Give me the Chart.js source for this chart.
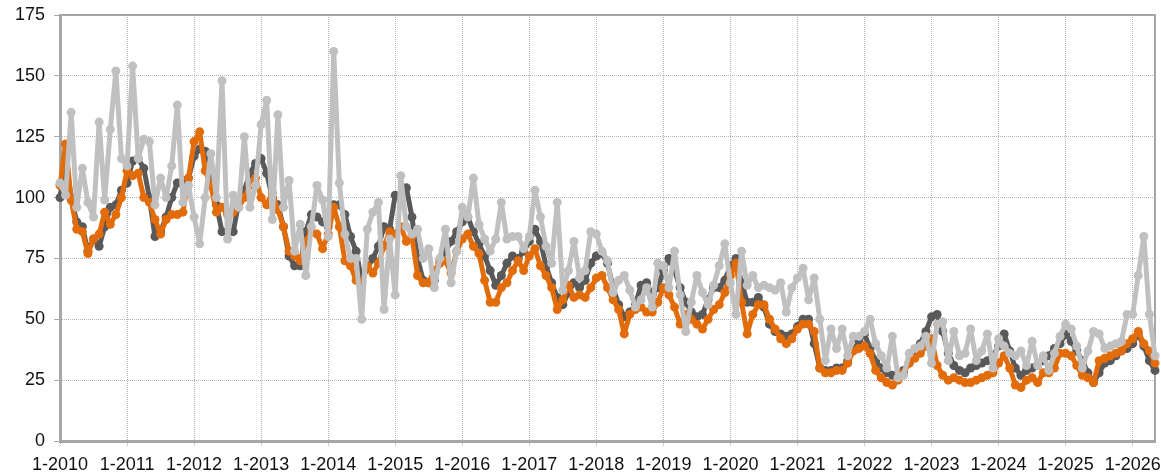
<!DOCTYPE html>
<html>
<head>
<meta charset="utf-8">
<script src="https://cdn.jsdelivr.net/npm/chart.js@4.4.1/dist/chart.umd.min.js"></script>
<style>
html,body{margin:0;padding:0;background:#ffffff;}
#wrap{width:1161px;height:476px;}
</style>
</head>
<body>
<div id="wrap"><canvas id="c" width="1161" height="476"></canvas></div>
<script>
// Monthly categories: January 2010 .. May 2026
const years = [2010,2011,2012,2013,2014,2015,2016,2017,2018,2019,2020,2021,2022,2023,2024,2025,2026];
const monthsInLastYear = 5;
const yTicks = [0,25,50,75,100,125,150,175];

const seriesDark = [
  100,116,100,90,88,78,83,80,88,96,97,103,
  106,115,116,112,100,84,86,92,100,106,107,108,
  117,120,119,112,97,86,86,86,98,103,110,114,
  116,110,100,97,88,76,72,72,86,93,92,90,
  88,97,97,93,84,78,66,71,75,80,88,87,
  101,100,104,92,75,66,65,66,74,78,82,86,
  90,92,86,81,76,70,64,68,73,76,75,78,
  82,87,82,72,65,59,56,61,65,63,66,73,
  76,77,73,63,56,51,53,56,64,65,60,63,
  70,75,70,63,57,53,51,52,58,63,63,66,
  72,75,65,57,57,59,55,48,45,44,43,44,
  47,50,50,40,30,29,29,30,30,33,37,41,
  44,38,33,30,28,27,26,29,32,35,40,45,
  51,52,45,36,31,29,28,30,31,32,33,35,
  39,44,37,30,27,29,30,31,33,35,38,40,
  44,41,37,33,28,24,28,32,33,35,37,38,
  40,44,39,33,29
];

const seriesOrange = [
  105,122,99,87,86,77,83,85,94,89,93,100,
  111,109,110,100,98,91,85,91,93,93,94,108,
  123,127,111,105,94,96,93,94,96,100,105,108,
  100,97,102,95,88,78,76,74,82,86,85,79,
  85,96,88,74,72,66,65,72,69,73,80,86,
  85,88,82,84,68,65,65,70,73,74,69,78,
  83,85,80,77,66,57,57,63,65,70,74,70,
  76,79,72,68,63,54,58,64,59,60,59,63,
  67,68,63,58,54,44,52,54,55,53,53,57,
  63,60,55,48,52,50,48,46,50,54,56,61,
  68,73,57,44,52,56,56,50,46,42,40,42,
  46,48,48,45,30,28,28,29,29,32,37,38,
  39,36,29,26,24,23,25,28,32,34,36,39,
  42,31,27,25,26,25,24,24,25,26,27,28,
  32,35,30,23,22,25,26,24,28,28,30,36,
  36,35,31,27,26,24,33,34,35,36,37,40,
  42,45,40,37,32
];

const seriesLight = [
  106,101,135,96,112,98,92,131,99,128,152,116,
  113,154,116,124,123,97,108,100,113,138,98,105,
  92,81,100,118,100,148,83,101,96,125,96,105,
  130,140,91,134,96,107,78,89,68,88,105,99,
  84,160,106,85,75,75,50,87,94,98,54,83,
  60,109,88,85,87,75,79,63,75,87,65,78,
  96,92,108,89,83,78,83,98,83,84,84,79,
  84,103,92,80,73,98,62,70,82,67,70,86,
  85,78,74,61,66,68,62,55,58,63,55,73,
  72,63,78,60,45,57,68,61,56,64,72,81,
  65,52,78,64,68,63,64,63,62,65,53,63,
  67,71,58,67,50,33,46,38,46,35,43,43,
  45,50,40,35,30,43,26,27,36,38,39,43,
  32,48,49,33,45,35,36,46,33,37,44,30,
  42,39,36,35,37,31,41,31,35,29,36,43,
  48,46,39,30,37,45,44,38,39,40,41,52,
  52,68,84,52,35
];

const labels = [];
years.forEach((y, yi) => {
  const n = (yi === years.length - 1) ? monthsInLastYear : 12;
  for (let m = 1; m <= n; m++) labels.push(m + '-' + y);
});

const FONT = 'Liberation Sans, Arial, Helvetica, sans-serif';
const AXIS = '#a6a6a6';
const GRID = '#b4b4b4';

const frame = {
  id: 'frame',
  beforeDatasetsDraw(chart) {
    const {ctx, chartArea: a} = chart;
    ctx.save();
    ctx.strokeStyle = AXIS;
    ctx.lineWidth = 2;
    ctx.beginPath();
    ctx.moveTo(a.left, a.top);
    ctx.lineTo(a.right, a.top);
    ctx.lineTo(a.right, a.bottom);
    ctx.stroke();
    ctx.restore();
  }
};

function ds(data, color) {
  return {
    data: data,
    borderColor: color,
    backgroundColor: color,
    borderWidth: 5,
    borderJoinStyle: 'round',
    borderCapStyle: 'round',
    pointRadius: 4.5,
    pointBorderWidth: 0,
    pointBackgroundColor: color,
    tension: 0,
    clip: false
  };
}

new Chart(document.getElementById('c'), {
  type: 'line',
  data: {
    labels: labels,
    datasets: [
      ds(seriesLight, '#c0c0c0'),
      ds(seriesOrange, '#e36c0a'),
      ds(seriesDark, '#595959')
    ]
  },
  options: {
    responsive: false,
    animation: false,
    events: [],
    layout: {padding: {top: 15, right: 6, left: 0, bottom: 0}},
    plugins: {legend: {display: false}, tooltip: {enabled: false}},
    scales: {
      x: {
        type: 'category',
        offset: false,
        grid: {
          color: c => (c.index % 12 === 0 ? GRID : 'rgba(0,0,0,0)'),
          lineWidth: 1,
          tickLength: 6,
          tickColor: c => (c.index % 12 === 0 ? GRID : 'rgba(0,0,0,0)'),
          tickBorderDash: [1, 1]
        },
        border: {display: true, color: AXIS, width: 3, dash: [1, 1]},
        ticks: {
          autoSkip: false,
          maxRotation: 0,
          minRotation: 0,
          padding: 7,
          color: '#111',
          font: {family: FONT, size: 18},
          callback: (v, i) => (i % 12 === 0 ? labels[i] : '')
        },
        afterFit: s => { s.height = 35; s.paddingLeft = 0; s.paddingRight = 0; }
      },
      y: {
        min: yTicks[0],
        max: yTicks[yTicks.length - 1],
        afterBuildTicks: s => { s.ticks = yTicks.map(v => ({value: v})); },
        grid: {color: GRID, lineWidth: 1, tickLength: 6, tickColor: AXIS, tickBorderDash: []},
        border: {display: true, color: AXIS, width: 3, dash: [1, 1]},
        ticks: {padding: 9, color: '#111', font: {family: FONT, size: 18}},
        afterFit: s => { s.width = 60; s.paddingTop = 0; s.paddingBottom = 0; }
      }
    }
  },
  plugins: [frame]
});
</script>
</body>
</html>
